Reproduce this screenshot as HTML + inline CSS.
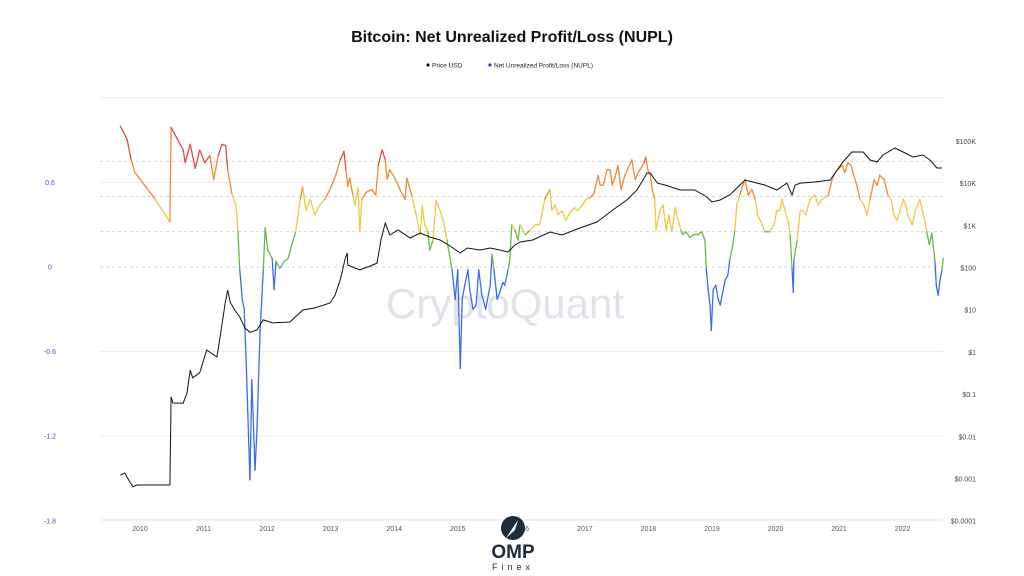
<!DOCTYPE html>
<html><head><meta charset="utf-8">
<style>
html,body{margin:0;padding:0;background:#fff;}
svg{display:block;font-family:"Liberation Sans",sans-serif;}
</style></head>
<body>
<svg id="chart" width="1024" height="576" viewBox="0 0 1024 576">
  <text x="512" y="42" text-anchor="middle" font-size="16" font-weight="bold" fill="#111">Bitcoin: Net Unrealized Profit/Loss (NUPL)</text>
  <g font-size="6.5" fill="#222">
    <g><circle cx="428" cy="65" r="1.6" fill="#111"/><text x="432" y="67.3">Price USD</text></g>
    <g><circle cx="490" cy="65" r="1.6" fill="#3a3ad0"/><text x="494" y="67.3">Net Unrealized Profit/Loss (NUPL)</text></g>
  </g>
  <text x="505" y="318" text-anchor="middle" font-size="42" fill="#e2e3ea">CryptoQuant</text>
  <g id="grid"></g>
  <g id="axes"></g>
  <g id="series"></g>
  <g>
    <circle cx="513" cy="528" r="12" fill="#1d2d3c"/>
    <path d="M506 538 L518 520 L515 530 Z" fill="#fff"/>
    <text x="513" y="558" text-anchor="middle" font-size="19" font-weight="bold" fill="#1d2d3c">OMP</text>
    <text x="513" y="570" text-anchor="middle" font-size="9" letter-spacing="4" fill="#1d2d3c">Finex</text>
  </g>
</svg>
<script>
const nuplDates=[2009.69,2009.80,2009.86,2009.92,2010.24,2010.47,2010.49,2010.68,2010.71,2010.79,2010.87,2010.94,2011.02,2011.10,2011.16,2011.23,2011.29,2011.35,2011.38,2011.45,2011.51,2011.54,2011.57,2011.61,2011.64,2011.67,2011.73,2011.76,2011.81,2011.84,2011.89,2011.94,2011.97,2012.01,2012.08,2012.11,2012.14,2012.20,2012.27,2012.33,2012.39,2012.45,2012.52,2012.56,2012.61,2012.68,2012.75,2012.83,2012.91,2012.99,2013.08,2013.15,2013.21,2013.24,2013.27,2013.30,2013.35,2013.38,2013.43,2013.46,2013.49,2013.56,2013.65,2013.71,2013.75,2013.81,2013.86,2013.89,2013.93,2014.01,2014.09,2014.17,2014.20,2014.28,2014.33,2014.41,2014.44,2014.48,2014.53,2014.56,2014.61,2014.66,2014.72,2014.78,2014.83,2014.88,2014.91,2014.96,2015.00,2015.04,2015.07,2015.11,2015.16,2015.19,2015.24,2015.29,2015.33,2015.38,2015.44,2015.51,2015.54,2015.57,2015.62,2015.66,2015.71,2015.74,2015.79,2015.82,2015.85,2015.90,2015.95,2015.98,2016.06,2016.14,2016.22,2016.29,2016.37,2016.45,2016.48,2016.53,2016.58,2016.64,2016.70,2016.77,2016.84,2016.89,2016.96,2017.02,2017.08,2017.14,2017.21,2017.24,2017.29,2017.35,2017.40,2017.43,2017.47,2017.52,2017.57,2017.63,2017.68,2017.74,2017.79,2017.84,2017.88,2017.93,2017.96,2017.99,2018.03,2018.06,2018.10,2018.12,2018.18,2018.23,2018.28,2018.32,2018.37,2018.42,2018.47,2018.51,2018.54,2018.59,2018.65,2018.72,2018.78,2018.84,2018.89,2018.91,2018.94,2018.97,2018.99,2019.02,2019.06,2019.10,2019.13,2019.16,2019.21,2019.25,2019.28,2019.33,2019.36,2019.39,2019.44,2019.47,2019.52,2019.57,2019.63,2019.68,2019.72,2019.79,2019.83,2019.91,2019.98,2020.02,2020.07,2020.10,2020.15,2020.20,2020.23,2020.26,2020.28,2020.29,2020.34,2020.39,2020.43,2020.48,2020.54,2020.62,2020.67,2020.73,2020.83,2020.89,2020.94,2020.98,2021.05,2021.09,2021.14,2021.19,2021.23,2021.28,2021.33,2021.39,2021.44,2021.49,2021.55,2021.60,2021.64,2021.71,2021.77,2021.82,2021.86,2021.91,2021.96,2022.01,2022.05,2022.08,2022.15,2022.20,2022.27,2022.35,2022.38,2022.42,2022.46,2022.51,2022.53,2022.56,2022.59,2022.62,2022.64];
const nuplValues=[1.00,0.90,0.76,0.67,0.48,0.32,0.99,0.83,0.74,0.87,0.70,0.83,0.74,0.79,0.62,0.79,0.87,0.86,0.69,0.51,0.44,0.26,-0.02,-0.23,-0.30,-0.66,-1.51,-0.80,-1.44,-1.16,-0.45,-0.02,0.28,0.12,0.06,-0.16,0.04,-0.01,0.04,0.06,0.16,0.25,0.48,0.57,0.40,0.48,0.37,0.44,0.48,0.55,0.65,0.76,0.82,0.69,0.57,0.63,0.51,0.44,0.56,0.25,0.48,0.53,0.55,0.51,0.72,0.83,0.76,0.62,0.69,0.63,0.55,0.48,0.63,0.50,0.40,0.23,0.44,0.30,0.25,0.12,0.19,0.47,0.40,0.32,0.19,0.06,-0.02,-0.23,-0.02,-0.72,-0.23,-0.13,-0.02,-0.16,-0.30,-0.27,-0.02,-0.20,-0.30,-0.13,0.09,-0.02,-0.23,-0.18,-0.11,-0.13,-0.02,0.05,0.30,0.26,0.19,0.30,0.23,0.26,0.30,0.30,0.48,0.55,0.40,0.44,0.37,0.40,0.33,0.39,0.42,0.40,0.44,0.48,0.49,0.52,0.65,0.58,0.58,0.69,0.69,0.58,0.63,0.72,0.55,0.65,0.70,0.76,0.62,0.67,0.70,0.74,0.78,0.69,0.65,0.55,0.48,0.26,0.40,0.44,0.26,0.37,0.25,0.42,0.33,0.26,0.23,0.25,0.21,0.23,0.23,0.25,0.19,-0.01,-0.16,-0.27,-0.45,-0.16,-0.13,-0.23,-0.27,-0.20,-0.09,-0.06,0.05,0.16,0.26,0.44,0.51,0.56,0.62,0.51,0.55,0.48,0.37,0.30,0.25,0.25,0.30,0.40,0.40,0.48,0.40,0.32,0.23,-0.01,-0.18,0.05,0.19,0.40,0.40,0.37,0.48,0.51,0.44,0.48,0.51,0.62,0.67,0.69,0.72,0.67,0.74,0.72,0.65,0.58,0.48,0.44,0.37,0.48,0.62,0.58,0.65,0.62,0.51,0.48,0.37,0.33,0.40,0.48,0.44,0.37,0.30,0.40,0.48,0.33,0.25,0.16,0.24,0.04,-0.13,-0.20,-0.09,-0.02,0.06];
const priceDates=[2009.69,2009.76,2009.84,2009.89,2009.95,2010.47,2010.49,2010.52,2010.68,2010.74,2010.79,2010.83,2010.94,2011.05,2011.21,2011.26,2011.34,2011.38,2011.42,2011.49,2011.57,2011.65,2011.73,2011.84,2011.94,2012.09,2012.36,2012.56,2012.75,2012.99,2013.07,2013.15,2013.23,2013.26,2013.27,2013.38,2013.46,2013.62,2013.73,2013.79,2013.86,2013.93,2014.06,2014.25,2014.41,2014.56,2014.72,2014.88,2015.04,2015.15,2015.35,2015.51,2015.66,2015.79,2015.90,2015.98,2016.18,2016.45,2016.64,2016.92,2017.19,2017.44,2017.66,2017.82,2017.98,2018.03,2018.14,2018.26,2018.50,2018.73,2018.92,2019.00,2019.13,2019.28,2019.44,2019.52,2019.71,2019.83,2020.02,2020.18,2020.26,2020.31,2020.39,2020.62,2020.86,2020.97,2021.06,2021.20,2021.38,2021.49,2021.60,2021.69,2021.88,2022.04,2022.16,2022.32,2022.43,2022.54,2022.62];
const priceValues=[0.00124,0.00139,0.00085,0.00065,0.00072,0.00072,0.088,0.063,0.063,0.109,0.38,0.25,0.33,1.14,0.78,2.3,14.8,30,15.6,10.1,6.9,3.8,3.0,3.4,5.9,5.0,5.25,10.1,11.3,14.8,22.9,52,172,227,118,100,90,111,131,461,1164,605,795,514,675,543,461,332,227,298,267,298,267,239,351,413,461,713,605,887,1230,2370,4090,7050,17800,17800,10300,9270,7050,7050,4810,3660,4090,5370,9270,12200,10300,9270,7050,10300,5370,9270,10300,10900,12200,21000,32500,56100,56100,36200,32500,47600,69800,53100,42700,47600,36200,23400,23400];
const yearTicks=[2010,2011,2012,2013,2014,2015,2016,2017,2018,2019,2020,2021,2022];
const leftTicks=[0.6,0,-0.6,-1.2,-1.8];
const rightTicks=[100000,10000,1000,100,10,1,0.1,0.01,0.001,0.0001];
const rightLabels=["$100K","$10K","$1K","$100","$10","$1","$0.1","$0.01","$0.001","$0.0001"];
const zoneLevels=[0.75,0.5,0.25,0];

const NS="http://www.w3.org/2000/svg";
const X0=100,X1=943;
function xs(yr){return 140+(yr-2010)*63.55;}
function yl(v){return 267-v*141;}
function yr(p){return 268-Math.log10(p/100)*42.2;}
function mk(tag,attrs,parent){const e=document.createElementNS(NS,tag);for(const k in attrs)e.setAttribute(k,attrs[k]);parent.appendChild(e);return e;}
const grid=document.getElementById('grid'),axes=document.getElementById('axes'),series=document.getElementById('series');

[1.2,0.6,-0.6,-1.2].forEach(v=>{
  const l=mk('line',{x1:X0,x2:X1,y1:yl(v),y2:yl(v),stroke:'#ececf0','stroke-width':1},grid);
  
  
});
zoneLevels.forEach(v=>{
  const l=mk('line',{x1:X0,x2:X1,y1:yl(v),y2:yl(v),stroke:'#c8c8cc','stroke-width':0.8,'stroke-dasharray':'3,3'},grid);
  
  
});
const base=mk('line',{x1:X0,x2:X1,y1:520,y2:520,stroke:'#e4e4e8','stroke-width':1},axes);


yearTicks.forEach(y=>{
  const t=mk('text',{x:xs(y),y:531,'text-anchor':'middle','font-size':7,fill:'#555'},axes);
  t.textContent=y;
  
  
});
leftTicks.forEach(v=>{
  const t=mk('text',{x:50,y:yl(v)+2.5,'text-anchor':'middle','font-size':7,fill:'#4a4ac8'},axes);
  t.textContent=v;
  
  
});
rightTicks.forEach((p,i)=>{
  const t=mk('text',{x:976,y:yr(p)+2.5,'text-anchor':'end','font-size':7,fill:'#444'},axes);
  t.textContent=rightLabels[i];
  
  
});

function col(v){if(v>0.75)return'#e04848';if(v>0.5)return'#f08a30';if(v>0.25)return'#f0c840';if(v>0)return'#68b848';return'#3a6ee8';}
for(let i=0;i<nuplDates.length-1;i++){
  const m=(nuplValues[i]+nuplValues[i+1])/2;
  const s=mk('line',{x1:xs(nuplDates[i]),y1:yl(nuplValues[i]),x2:xs(nuplDates[i+1]),y2:yl(nuplValues[i+1]),stroke:col(m),'stroke-width':1.3,'stroke-linecap':'round'},series);
  
  
}
let d='';
priceDates.forEach((t,i)=>{d+=(i?'L':'M')+xs(t).toFixed(1)+' '+yr(priceValues[i]).toFixed(1);});
const pl=mk('path',{d:d,fill:'none',stroke:'#111','stroke-width':1},series);


</script>
</body></html>
